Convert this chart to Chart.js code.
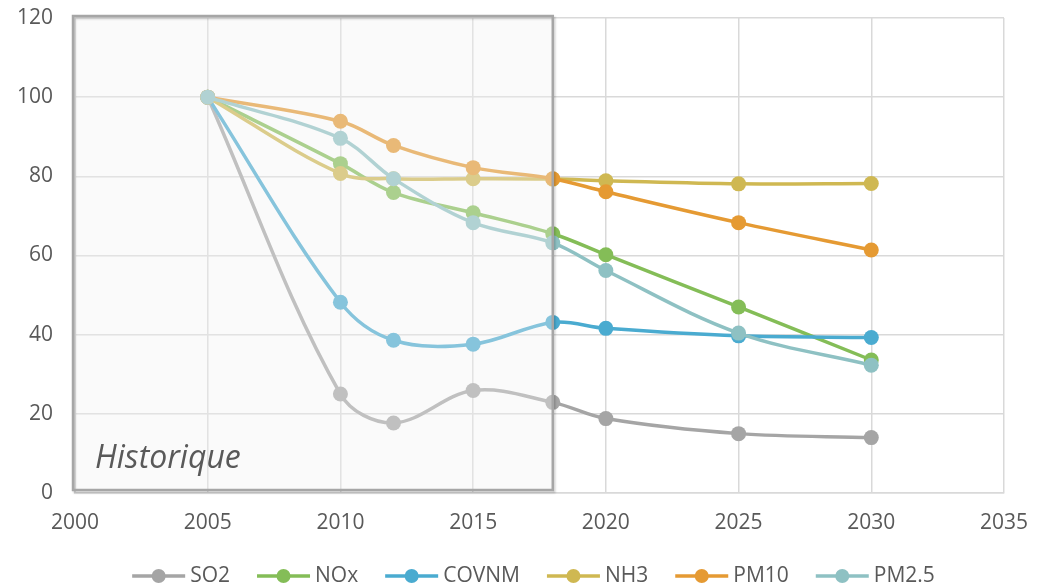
<!DOCTYPE html>
<html>
<head>
<meta charset="utf-8">
<script src="https://cdn.jsdelivr.net/npm/chart.js@4.4.1/dist/chart.umd.min.js"></script>
<style>
  html, body { margin: 0; padding: 0; background: #ffffff; }
  #c { display: block; }
</style>
</head>
<body>
<canvas id="c" width="1044" height="586"></canvas>
<script>
// Emissions index (2005 = 100), historical values then projections
const years = [2005, 2010, 2012, 2015, 2018, 2020, 2025, 2030];
const seriesNames = ['SO2', 'NOx', 'COVNM', 'NH3', 'PM10', 'PM2.5'];
const so2   = [100, 25.0, 17.7, 25.9, 22.9, 18.8, 15.0, 14.0];
const nox   = [100, 83.2, 75.9, 70.8, 65.5, 60.2, 47.0, 33.6];
const covnm = [100, 48.2, 38.6, 37.6, 43.1, 41.6, 39.7, 39.3];
const nh3   = [100, 80.7, 79.4, 79.4, 79.3, 78.9, 78.1, 78.2];
const pm10  = [100, 93.9, 87.8, 82.2, 79.4, 76.1, 68.3, 61.4];
const pm25  = [100, 89.6, 79.4, 68.3, 63.2, 56.2, 40.4, 32.3];
const xTickValues = [2000, 2005, 2010, 2015, 2020, 2025, 2030, 2035];
const yTickValues = [0, 20, 40, 60, 80, 100, 120];
const historyLabel = 'Historique';
const historyStart = 2000;
const historyEnd = 2018;

const seriesValues = [so2, nox, covnm, nh3, pm10, pm25];
const seriesColors = ['#a5a5a5', '#84bd57', '#4aabd0', '#cfb852', '#e59a33', '#8ec1c3'];

const textColor = '#595959';
const fontFamily = '"Open Sans", "Liberation Sans", sans-serif';

const datasets = seriesNames.map((name, i) => ({
  label: name,
  data: years.map((y, k) => ({ x: y, y: seriesValues[i][k] })),
  borderColor: seriesColors[i],
  backgroundColor: seriesColors[i],
  pointBackgroundColor: seriesColors[i],
  pointBorderColor: seriesColors[i],
  pointBorderWidth: 0,
  pointRadius: 7.5,
  borderWidth: 3.5,
  tension: 0.35,
  fill: false,
  order: seriesNames.length - i
}));

// Shaded frame over the historical period, with its caption
const historyFrame = {
  id: 'historyFrame',
  afterDatasetsDraw(chart) {
    const { ctx, scales: { x, y } } = chart;
    const x0 = x.getPixelForValue(historyStart) - 2;
    const x1 = x.getPixelForValue(historyEnd);
    const y0 = y.getPixelForValue(120) - 2;
    const y1 = y.getPixelForValue(0) - 3;
    ctx.save();
    ctx.fillStyle = 'rgba(240,240,240,0.36)';
    ctx.fillRect(x0, y0, x1 - x0, y1 - y0);
    ctx.shadowColor = 'rgba(0,0,0,0.18)';
    ctx.shadowOffsetX = 1.5;
    ctx.shadowOffsetY = 2;
    ctx.shadowBlur = 2;
    ctx.strokeStyle = '#a6a6a6';
    ctx.lineWidth = 2.5;
    ctx.strokeRect(x0, y0, x1 - x0, y1 - y0);
    ctx.shadowColor = 'transparent';
    ctx.fillStyle = textColor;
    ctx.font = 'italic 32px ' + fontFamily;
    ctx.textAlign = 'left';
    ctx.textBaseline = 'middle';
    ctx.fillText(historyLabel, x0 + 22, y1 - 31);
    ctx.restore();
  }
};

// Legend: line with marker, then series name, centred under the plot
const lineLegend = {
  id: 'lineLegend',
  afterDraw(chart) {
    const { ctx, chartArea } = chart;
    const sampleW = 53, gapText = 5, gapItem = 27;
    ctx.save();
    ctx.font = '21px ' + fontFamily;
    const items = chart.data.datasets.map(ds => ({
      text: ds.label, color: ds.borderColor, w: ctx.measureText(ds.label).width
    }));
    const total = items.reduce((s, it) => s + sampleW + gapText + it.w, 0) + gapItem * (items.length - 1);
    let cx = (chartArea.left + chartArea.right) / 2 - 6 - total / 2;
    const cy = 576;
    items.forEach(it => {
      ctx.strokeStyle = it.color;
      ctx.lineWidth = 3.5;
      ctx.beginPath();
      ctx.moveTo(cx, cy);
      ctx.lineTo(cx + sampleW, cy);
      ctx.stroke();
      ctx.fillStyle = it.color;
      ctx.beginPath();
      ctx.arc(cx + sampleW / 2, cy, 7, 0, Math.PI * 2);
      ctx.fill();
      ctx.fillStyle = textColor;
      ctx.textAlign = 'left';
      ctx.textBaseline = 'middle';
      ctx.fillText(it.text, cx + sampleW + gapText, cy);
      cx += sampleW + gapText + it.w + gapItem;
    });
    ctx.restore();
  }
};

new Chart(document.getElementById('c'), {
  type: 'line',
  data: { datasets },
  plugins: [historyFrame, lineLegend],
  options: {
    responsive: false,
    animation: false,
    layout: { padding: { left: 0, right: 40, top: 18, bottom: 48 } },
    plugins: { legend: { display: false }, tooltip: { enabled: false } },
    scales: {
      x: {
        type: 'linear',
        min: 2000,
        max: 2035,
        afterBuildTicks: s => { s.ticks = xTickValues.map(v => ({ value: v })); },
        afterFit: s => { s.height = 45; s.paddingLeft = 0; s.paddingRight = 0; },
        grid: { color: '#d9d9d9', lineWidth: 1.5, drawTicks: false },
        border: { display: true, color: '#d9d9d9', width: 1.5 },
        ticks: {
          padding: 17, color: textColor, autoSkip: false, maxRotation: 0,
          font: { family: fontFamily, size: 21 },
          callback: v => String(v)
        }
      },
      y: {
        min: 0,
        max: 120,
        afterBuildTicks: s => { s.ticks = yTickValues.map(v => ({ value: v })); },
        afterFit: s => { s.width = 75; s.paddingTop = 0; s.paddingBottom = 0; },
        grid: { color: '#d9d9d9', lineWidth: 1.5, drawTicks: false },
        border: { display: true, color: '#d9d9d9', width: 1.5 },
        ticks: {
          padding: 22, color: textColor,
          font: { family: fontFamily, size: 21 },
          callback: v => String(v)
        }
      }
    }
  }
});
</script>
</body>
</html>
